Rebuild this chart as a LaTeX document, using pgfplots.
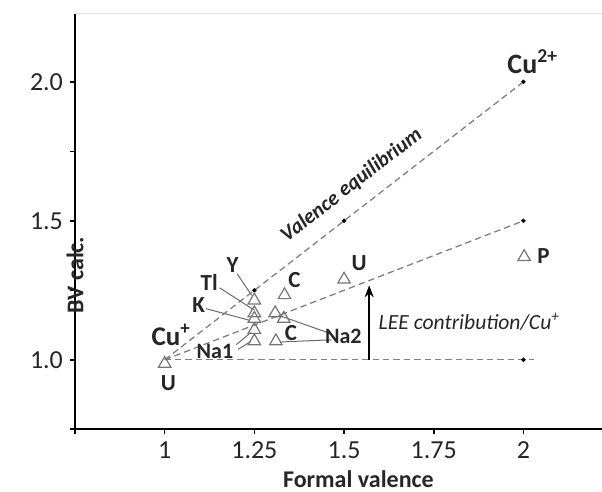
\documentclass[border=0pt]{standalone}
\usepackage{pgfplots}
\pgfplotsset{compat=1.18}
\usepackage{fontspec}
\setmainfont{Carlito}
\usetikzlibrary{arrows.meta}
\definecolor{dashgray}{HTML}{808080}
\definecolor{tri}{HTML}{767676}
\definecolor{lead}{HTML}{6A6A6A}
\definecolor{txt}{HTML}{262626}
\begin{document}
\begin{tikzpicture}
\begin{axis}[
  scale only axis, width=263.5pt, height=207.65pt,
  xmin=0.75, xmax=2.219, ymin=0.75, ymax=2.244,
  axis lines=left, axis line style={black, line width=1pt, -},
  xtick={0.75,1,1.25,1.5,1.75,2},
  xticklabels={,1,1.25,1.5,1.75,2},
  ytick={0.75,1,1.25,1.5,1.75,2},
  yticklabels={,1.0,,1.5,,2.0},
  tick style={black, line width=0.8pt},
  tick align=outside, major tick length=2.5pt,
  ticklabel style={font=\fontsize{13}{15}\selectfont, text=txt},
  /pgf/number format/assume math mode=true,
  xlabel={\bfseries Formal valence},
  ylabel={\bfseries BV calc.},
  xlabel style={font=\fontsize{12}{14}\selectfont, at={(axis cs:1.54,0.75)}, anchor=base, yshift=-29pt, text=txt},
  ylabel style={font=\fontsize{12}{14}\selectfont, at={(axis description cs:0,0.5)}, anchor=center, xshift=-26.7pt, text=txt},
  clip=false,
]
% faint top frame line
\draw[black!10, line width=0.5pt] (axis description cs:0,1) -- (axis description cs:1,1);
% dashed guide lines
\addplot[dashgray, line width=0.65pt, dash pattern=on 3.2pt off 2pt] coordinates {(1,1) (2,2)};
\addplot[dashgray, line width=0.65pt, dash pattern=on 3.2pt off 2pt] coordinates {(1,1) (2.0,1.5)};
\addplot[dashgray, line width=0.65pt, dash pattern=on 3.2pt off 2pt] coordinates {(1,1) (2.03,1)};
% black dots
\addplot[only marks, mark=*, mark size=0.9pt, black] coordinates {(1.25,1.25) (1.5,1.5) (2,2) (2,1.5) (2,1)};
% leader lines
\addplot[lead, line width=0.5pt] coordinates {(1.2015,1.310) (1.2425,1.232)};
\addplot[lead, line width=0.5pt] coordinates {(1.153,1.259) (1.248,1.180)};
\addplot[lead, line width=0.5pt] coordinates {(1.115,1.184) (1.237,1.142)};
\addplot[lead, line width=0.5pt] coordinates {(1.20,1.055) (1.240,1.098)};
\addplot[lead, line width=0.5pt] coordinates {(1.205,1.038) (1.240,1.066)};
\addplot[lead, line width=0.5pt] coordinates {(1.465,1.093) (1.318,1.160)};
\addplot[lead, line width=0.5pt] coordinates {(1.465,1.072) (1.322,1.064)};
% data triangles
\addplot[only marks, mark=triangle, mark size=3.6pt, tri, mark options={line width=0.6pt, fill=white}] coordinates {
(1,0.986) (1.25,1.214) (1.25,1.168) (1.25,1.148) (1.25,1.108) (1.25,1.067)
(1.334,1.233) (1.308,1.168) (1.332,1.148) (1.310,1.067) (1.500,1.289) (2.002,1.370)};
% arrow
\addplot[black, line width=0.9pt, -{Stealth[length=6pt,width=4.5pt]}] coordinates {(1.570,1.0) (1.570,1.268)};
% labels
\node[font=\fontsize{14}{16}\selectfont\bfseries, text=txt] at (axis cs:2.026,2.072) {Cu\textsuperscript{2+}};
\node[font=\fontsize{13.5}{16}\selectfont\bfseries, text=txt] at (axis cs:1.018,1.090) {Cu\textsuperscript{+}};
\node[font=\fontsize{11.5}{14}\selectfont\bfseries, text=txt] at (axis cs:1.010,0.915) {U};
\node[font=\fontsize{11.5}{14}\selectfont\bfseries, text=txt] at (axis cs:1.189,1.340) {Y};
\node[font=\fontsize{11.5}{14}\selectfont\bfseries, text=txt] at (axis cs:1.124,1.280) {Tl};
\node[font=\fontsize{11.5}{14}\selectfont\bfseries, text=txt] at (axis cs:1.095,1.196) {K};
\node[font=\fontsize{11.5}{14}\selectfont\bfseries, text=txt] at (axis cs:1.362,1.288) {C};
\node[font=\fontsize{11.5}{14}\selectfont\bfseries, text=txt] at (axis cs:1.352,1.097) {C};
\node[font=\fontsize{11.5}{14}\selectfont\bfseries, text=txt] at (axis cs:1.542,1.346) {U};
\node[font=\fontsize{11.5}{14}\selectfont\bfseries, text=txt] at (axis cs:2.056,1.372) {P};
\node[font=\fontsize{11}{13}\selectfont\bfseries, text=txt] at (axis cs:1.498,1.084) {Na2};
\node[font=\fontsize{11}{13}\selectfont\bfseries, text=txt] at (axis cs:1.140,1.031) {Na1};
\node[font=\fontsize{10.5}{13}\selectfont\bfseries\itshape, text=txt, rotate=37.7] at (axis cs:1.521,1.628) {Valence equilibrium};
\node[font=\fontsize{10.8}{13}\selectfont\itshape, text=txt, anchor=west] at (axis cs:1.577,1.135) {LEE contribution/Cu\textsuperscript{+}};
\end{axis}
\pgfresetboundingbox
\path (-37.5pt,-31pt) rectangle (263.5pt,214.65pt);
\end{tikzpicture}
\end{document}
